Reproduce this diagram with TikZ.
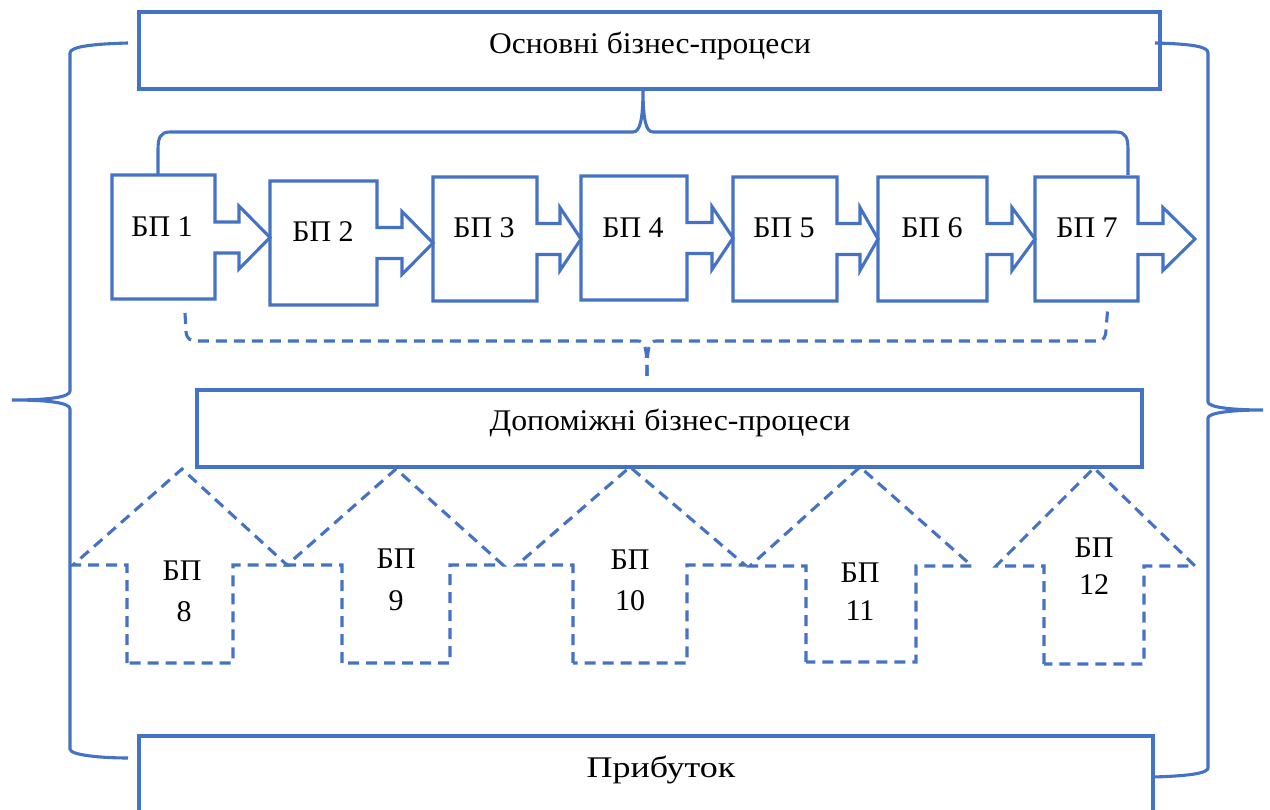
\documentclass[tikz,border=0pt]{standalone}
\usepackage{fontspec}
\usepackage{graphicx}
\setmainfont{Liberation Serif}
\definecolor{wordblue}{HTML}{4472C4}
\tikzset{
  outline/.style={draw=wordblue, line width=3.1pt, line join=miter},
  dashline/.style={outline, dash pattern=on 11pt off 7pt},
  label/.style={font=\fontsize{30}{36}\selectfont, inner sep=0pt, anchor=base, text=black},
  panel/.style={outline, rectangle, inner sep=0pt}
}
% right-pointing process block: left, right, top, bottom, arrow axis y, head back x, tip x
\newcommand{\rcallout}[7]{%
  \draw[outline] (#1,#3) -- (#2,#3) -- (#2,#5-15.5) -- (#6,#5-15.5) -- (#6,#5-31.5)
    -- (#7,#5) -- (#6,#5+31.5) -- (#6,#5+15.5) -- (#2,#5+15.5) -- (#2,#4) -- (#1,#4) -- cycle;}
% upward supporting block: tip x, tip y, head left, head right, head base y, shaft left, shaft right, bottom
\newcommand{\uarrowblock}[8]{%
  \draw[dashline] (#6,#8) -- (#6,#5) -- (#3,#5) -- (#1,#2) -- (#4,#5) -- (#7,#5) -- (#7,#8) -- cycle;}
\begin{document}
\begin{tikzpicture}[x=1pt,y=-1pt]
\clip (0,0) rectangle (1270,810);

% main panels
\node[panel, minimum width=1021pt, minimum height=77pt] (core) at (649.5,50.5) {};
\node[label] (corelbl) at (650,54) {\scalebox{1.05}[1]{Основні бізнес-процеси}};
\node[panel, minimum width=945pt, minimum height=77pt] (support) at (669.5,428.5) {};
\node[label] (supportlbl) at (670,431) {\scalebox{1.06}[1]{Допоміжні бізнес-процеси}};
\node[panel, minimum width=1014pt, minimum height=120pt] (profit) at (646,796) {};
\node[label] (profitlbl) at (661,777) {\scalebox{1.2}[1]{Прибуток}};

% core process chain
\rcallout{112}{215}{175}{299}{237.5}{239}{270}
\rcallout{270}{377}{181}{305}{243}{402}{433}
\rcallout{433}{537}{177}{301}{239}{560}{581}
\rcallout{581}{687}{176}{300}{238}{712}{733}
\rcallout{733}{837}{177}{301}{239}{860}{878}
\rcallout{878}{987}{177}{301}{239}{1012}{1035}
\rcallout{1035}{1138}{177}{301}{239}{1163}{1195}
\node[label] (bp1) at (162,237) {БП 1};
\node[label] (bp2) at (323,242) {БП 2};
\node[label] (bp3) at (484,238) {БП 3};
\node[label] (bp4) at (633,238) {БП 4};
\node[label] (bp5) at (784,238) {БП 5};
\node[label] (bp6) at (932,238) {БП 6};
\node[label] (bp7) at (1087,238) {БП 7};

% supporting processes
\uarrowblock{182}{469}{73}{287}{565}{127}{233}{663}
\uarrowblock{396}{469}{287}{503}{565}{342}{450}{663}
\uarrowblock{630}{467}{517}{745}{565}{573}{687}{663}
\uarrowblock{860}{467}{750}{972}{566}{806}{916}{662}
\uarrowblock{1094}{468}{996}{1195}{566}{1044}{1144}{664}
\node[label] (bp8a) at (182,580) {БП};
\node[label] (bp8b) at (184,621) {8};
\node[label] (bp9a) at (396,568) {БП};
\node[label] (bp9b) at (396,610) {9};
\node[label] (bp10a) at (630,569) {БП};
\node[label] (bp10b) at (630,610) {10};
\node[label] (bp11a) at (860,582) {БП};
\node[label] (bp11b) at (860,620) {11};
\node[label] (bp12a) at (1094,557) {БП};
\node[label] (bp12b) at (1094,594) {12};

% brace grouping the core chain
\draw[outline] (158,175) -- (158,150) .. controls (158,138) and (160,132) .. (170,132)
  -- (633,132) .. controls (640,132) and (643,120) .. (643,89)
  .. controls (643,120) and (646,132) .. (653,132)
  -- (1116,132) .. controls (1126,132) and (1128,138) .. (1128,150) -- (1128,175);

% dashed brace under the core chain
\draw[dashline] (185,313) -- (186,332) .. controls (187,339) and (190,341) .. (198,341)
  -- (638,341) .. controls (645,341) and (647,347) .. (647,376);
\draw[dashline] (647,376) .. controls (647,347) and (649,341) .. (656,341)
  -- (1098,341) .. controls (1104,341) and (1106,336) .. (1106,330) -- (1108,305);

% outer left brace
\draw[outline] (128,43) .. controls (90,44) and (70,47) .. (70,53) -- (70,391)
  .. controls (70,397) and (50,400) .. (12,400)
  .. controls (50,400) and (70,403) .. (70,409) -- (70,749)
  .. controls (70,755) and (100,758) .. (128,758);

% outer right brace
\draw[outline] (1155,43) .. controls (1195,44) and (1208,47) .. (1208,53) -- (1208,402)
  .. controls (1208,407) and (1230,410) .. (1263,410)
  .. controls (1230,410) and (1208,413) .. (1208,418) -- (1208,768)
  .. controls (1208,773) and (1190,776) .. (1153,777);
\end{tikzpicture}
\end{document}
